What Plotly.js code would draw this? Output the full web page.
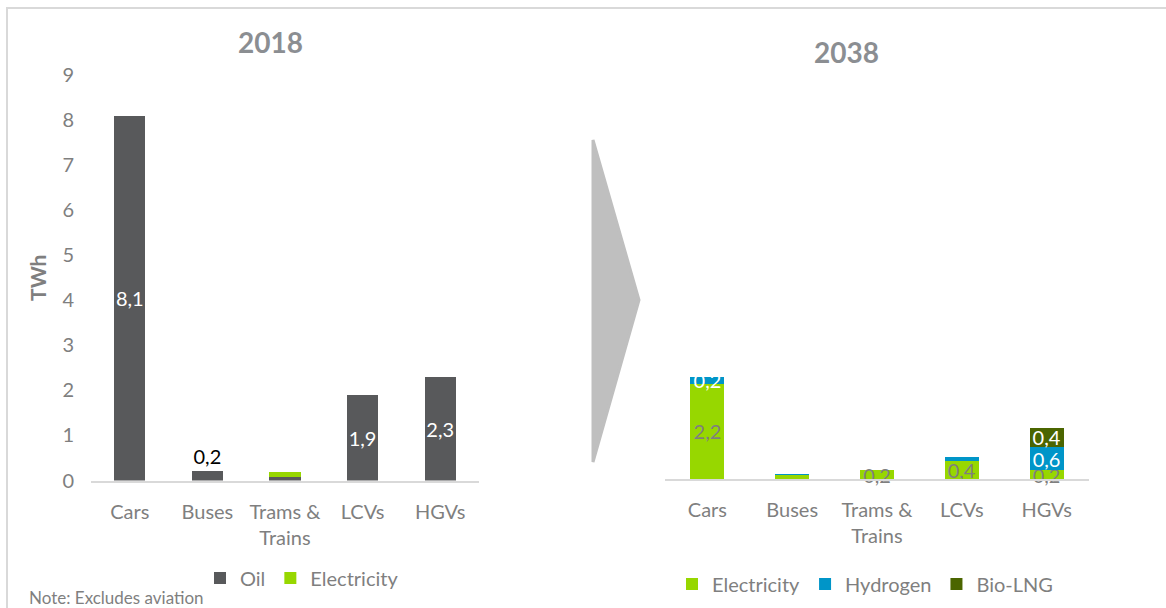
<!DOCTYPE html>
<html>
<head>
<meta charset="utf-8">
<script src="https://cdn.plot.ly/plotly-3.0.1.min.js"></script>
<style>
  html, body { margin: 0; padding: 0; background: #fff; }
  #chart { width: 1166px; height: 608px; }
</style>
</head>
<body>
<div id="chart"></div>
<script>
// categories (same for both years)
var categories = ['Cars', 'Buses', 'Trams &<br>Trains', 'LCVs', 'HGVs'];

// 2018, TWh
var oil2018 = [8.1, 0.2, 0.08, 1.9, 2.3];
var elec2018 = [0, 0, 0.11, 0, 0];
var oil2018Shown = [true, true, false, true, true];

// 2038, TWh
var elec2038 = [2.24, 0.09, 0.2, 0.42, 0.2];
var hydrogen2038 = [0.16, 0.02, 0, 0.09, 0.56];
var bioLng2038 = [0, 0, 0, 0, 0.44];
var elec2038Shown = [true, false, true, true, true];
var hydrogen2038Shown = [true, false, false, false, true];
var bioLng2038Shown = [false, false, false, false, true];

var yTicks = [0, 1, 2, 3, 4, 5, 6, 7, 8, 9];

var grey = '#7f7f7f';
var font = 'Lato, "Open Sans", sans-serif';

function labels(vals, shown) {
  return vals.map(function (v, i) {
    return shown[i] ? v.toFixed(1).replace('.', ',') : '';
  });
}

function bars(name, vals, shown, color, txtColor, xa, ya, legend) {
  return {
    type: 'bar',
    name: name,
    x: categories,
    y: vals,
    xaxis: xa,
    yaxis: ya,
    legend: legend,
    marker: { color: color },
    text: labels(vals, shown),
    textposition: 'inside',
    insidetextanchor: 'middle',
    textangle: 0,
    constraintext: 'none',
    cliponaxis: false,
    insidetextfont: { family: font, size: 20, color: txtColor },
    outsidetextfont: { family: font, size: 20, color: '#000' },
    hoverinfo: 'skip'
  };
}

var oilTrace = bars('Oil', oil2018, oil2018Shown, '#58595b', '#ffffff', 'x', 'y', 'legend');
oilTrace.textposition = ['inside', 'outside', 'inside', 'inside', 'inside'];

var data = [
  oilTrace,
  bars('Electricity', elec2018, [false, false, false, false, false], '#97d700', grey, 'x', 'y', 'legend'),
  bars('Electricity', elec2038, elec2038Shown, '#97d700', grey, 'x2', 'y2', 'legend2'),
  bars('Hydrogen', hydrogen2038, hydrogen2038Shown, '#0095c8', '#ffffff', 'x2', 'y2', 'legend2'),
  bars('Bio-LNG', bioLng2038, bioLng2038Shown, '#4b6500', '#ffffff', 'x2', 'y2', 'legend2')
];

var W = 1166, H = 608;
function px(x) { return x / W; }
function py(y) { return 1 - y / H; }

var xCommon = {
  type: 'category',
  showgrid: false,
  zeroline: false,
  showline: true,
  linecolor: '#d9d9d9',
  linewidth: 2,
  ticks: '',
  ticklabelstandoff: 12,
  tickfont: { family: font, size: 20, color: grey },
  fixedrange: true
};

var layout = {
  width: W,
  height: H,
  autosize: false,
  margin: { l: 0, r: 0, t: 0, b: 0 },
  paper_bgcolor: '#ffffff',
  plot_bgcolor: '#ffffff',
  barmode: 'stack',
  bargap: 0.6,
  font: { family: font, color: grey },
  xaxis: Object.assign({}, xCommon, { domain: [px(91), px(479)], anchor: 'y' }),
  yaxis: {
    domain: [py(480.5), py(75)],
    range: [0, 9],
    tickvals: yTicks,
    showgrid: false,
    zeroline: false,
    showline: false,
    ticks: '',
    ticklabelstandoff: 16,
    tickfont: { family: font, size: 20, color: grey },
    title: { text: 'TWh', standoff: 10, font: { family: font, size: 21, color: grey, weight: 'bold' } },
    anchor: 'x',
    fixedrange: true
  },
  xaxis2: Object.assign({}, xCommon, { domain: [px(665), px(1089)], anchor: 'y2' }),
  yaxis2: {
    domain: [py(479), py(75)],
    range: [0, 9.5],
    visible: false,
    anchor: 'x2',
    fixedrange: true
  },
  legend: {
    orientation: 'h',
    traceorder: 'normal',
    x: px(200), xanchor: 'left',
    y: py(578), yanchor: 'middle',
    font: { family: font, size: 20, color: grey },
    bgcolor: 'rgba(0,0,0,0)'
  },
  legend2: {
    orientation: 'h',
    traceorder: 'normal',
    x: px(672), xanchor: 'left',
    y: py(584), yanchor: 'middle',
    font: { family: font, size: 20, color: grey },
    bgcolor: 'rgba(0,0,0,0)'
  },
  annotations: [
    { text: '<b>2018</b>', xref: 'paper', yref: 'paper', x: px(270), y: py(42),
      xanchor: 'center', yanchor: 'middle', showarrow: false,
      font: { family: font, size: 28, color: '#8b8e92' } },
    { text: '<b>2038</b>', xref: 'paper', yref: 'paper', x: px(847), y: py(52),
      xanchor: 'center', yanchor: 'middle', showarrow: false,
      font: { family: font, size: 28, color: '#8b8e92' } },
    { text: 'Note: Excludes aviation', xref: 'paper', yref: 'paper', x: px(27), y: py(597),
      xanchor: 'left', yanchor: 'middle', showarrow: false,
      font: { family: font, size: 17, color: grey } }
  ],
  shapes: [
    { type: 'rect', xref: 'paper', yref: 'paper',
      x0: px(7), x1: 1.02, y0: -0.05, y1: py(8),
      line: { color: '#d9d9d9', width: 2 }, fillcolor: 'rgba(0,0,0,0)', layer: 'below' },
    { type: 'path', xref: 'paper', yref: 'paper',
      path: 'M ' + px(593) + ' ' + py(140) + ' L ' + px(639) + ' ' + py(300) +
            ' L ' + px(593) + ' ' + py(462) + ' Z',
      fillcolor: '#bfbfbf', line: { color: '#bfbfbf', width: 3 }, layer: 'below' }
  ]
};

Plotly.newPlot('chart', data, layout, { staticPlot: true, displayModeBar: false });
</script>
</body>
</html>
